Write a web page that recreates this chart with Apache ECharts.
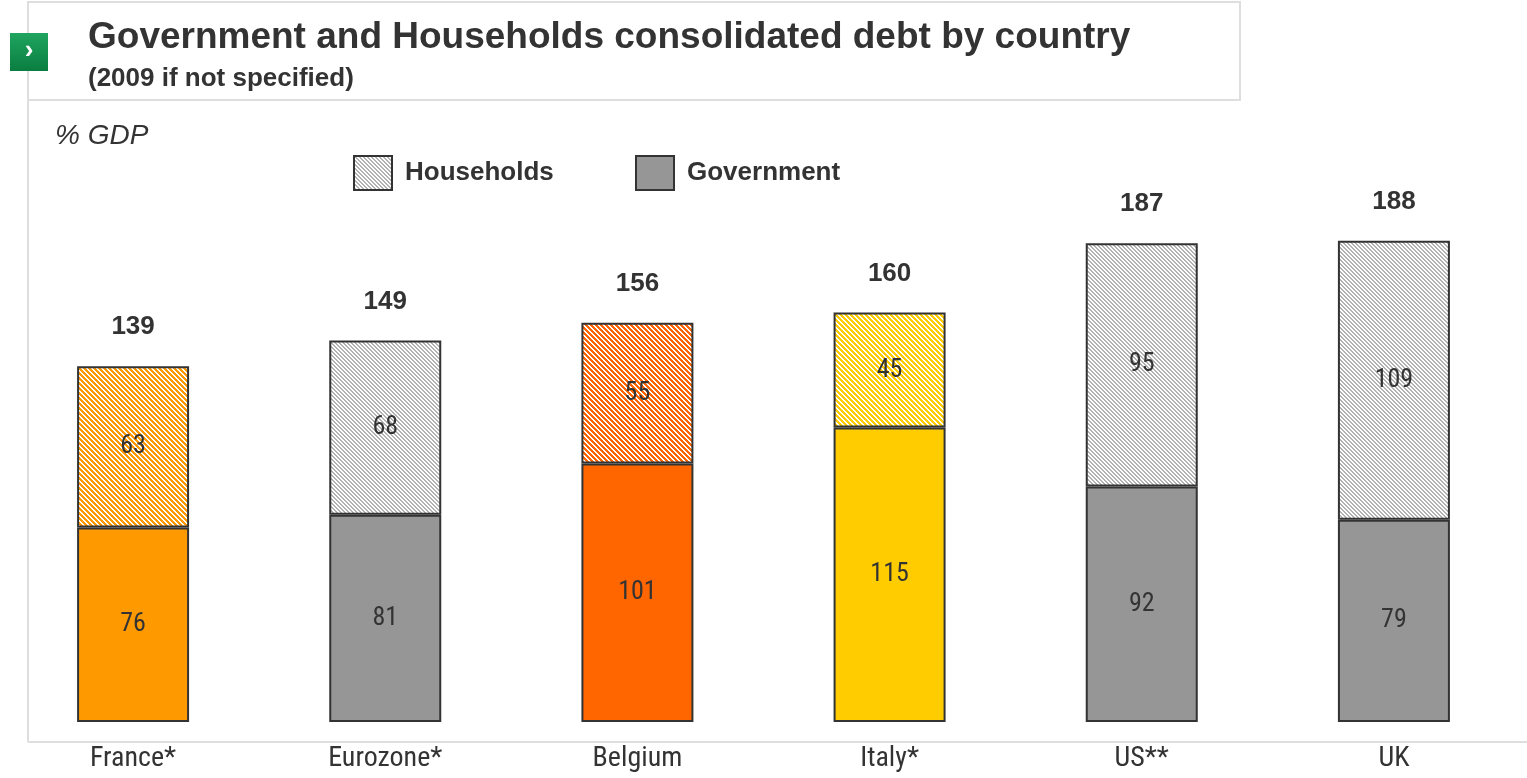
<!DOCTYPE html>
<html>
<head>
<meta charset="utf-8">
<title>Government and Households consolidated debt by country</title>
<script src="https://cdn.jsdelivr.net/npm/echarts@6/dist/echarts.min.js"></script>
<style>
  html, body { margin: 0; padding: 0; background: #fff; }
  #chart { width: 1527px; height: 778px; }
</style>
</head>
<body>
<div id="chart"></div>
<script>
// Debt as % of GDP (2009 unless specified)
const countries = ['France*', 'Eurozone*', 'Belgium', 'Italy*', 'US**', 'UK'];
const government = [76, 81, 101, 115, 92, 79];
const households = [63, 68, 55, 45, 95, 109];
const totals = [139, 149, 156, 160, 187, 188];

// Base colour per country; the households segment uses a striped version of it
const countryColors = ['#FF9900', '#969696', '#FF6600', '#FFCC00', '#969696', '#969696'];

const NARROW = "'Liberation Sans Narrow', 'Roboto Condensed', 'DejaVu Sans Condensed', 'Liberation Sans', sans-serif";
const SANS = "'Liberation Sans', Arial, sans-serif";
const TEXT = '#333333';

// Diagonal "\" stripe tile used as a repeating fill
function hatch(stripe, bg, period, width) {
  const c = document.createElement('canvas');
  c.width = period; c.height = period;
  const ctx = c.getContext('2d');
  ctx.fillStyle = bg;
  ctx.fillRect(0, 0, period, period);
  ctx.fillStyle = stripe;
  for (let y = 0; y < period; y++) {
    for (let x = 0; x < period; x++) {
      const d = ((x - y) % period + period) % period;
      if (d < width) ctx.fillRect(x, y, 1, 1);
    }
  }
  return { image: c, repeat: 'repeat' };
}

function hatchFor(color) {
  if (color === '#969696') return hatch('#b2b2b2', '#ffffff', 4, 2);
  return hatch(color, '#ffffff', 5, 3);
}

const grayHatch = hatchFor('#969696');
const border = { borderColor: '#333333', borderWidth: 2 };

const chart = echarts.init(document.getElementById('chart'), null, { renderer: 'canvas' });

const legendText = { fontFamily: SANS, fontWeight: 'bold', fontSize: 26, color: TEXT, padding: [0, 0, 0, 8] };

chart.setOption({
  animation: false,
  backgroundColor: '#ffffff',
  grid: { left: 7, right: 7, top: 210, bottom: 56 },
  legend: [
    {
      data: ['Households'],
      left: 353, top: 155, padding: 0,
      icon: 'rect', itemWidth: 38, itemHeight: 34,
      itemStyle: border,
      textStyle: legendText,
      selectedMode: false
    },
    {
      data: ['Government'],
      left: 635, top: 155, padding: 0,
      icon: 'rect', itemWidth: 38, itemHeight: 34,
      itemStyle: border,
      textStyle: legendText,
      selectedMode: false
    }
  ],
  xAxis: {
    type: 'category',
    data: countries,
    axisLine: { show: false },
    axisTick: { show: false },
    axisLabel: { fontFamily: NARROW, fontSize: 28, color: TEXT, margin: 23 }
  },
  yAxis: { type: 'value', min: 0, max: 200, show: false },
  series: [
    {
      name: 'Government',
      type: 'bar',
      stack: 'debt',
      barWidth: 112,
      itemStyle: Object.assign({ color: '#969696' }, border),
      label: { show: true, position: 'inside', fontFamily: NARROW, fontSize: 26, color: TEXT },
      data: government.map((v, i) => ({ value: v, itemStyle: { color: countryColors[i] } }))
    },
    {
      name: 'Households',
      type: 'bar',
      stack: 'debt',
      barWidth: 112,
      itemStyle: Object.assign({ color: grayHatch }, border),
      label: { show: true, position: 'inside', fontFamily: NARROW, fontSize: 26, color: TEXT },
      data: households.map((v, i) => ({ value: v, itemStyle: { color: hatchFor(countryColors[i]) } }))
    },
    {
      name: 'Total',
      type: 'scatter',
      symbolSize: 0,
      silent: true,
      itemStyle: { color: TEXT, opacity: 1 },
      label: {
        show: true, position: 'top', distance: 26,
        fontFamily: SANS, fontWeight: 'bold', fontSize: 26, color: TEXT
      },
      data: totals
    }
  ],
  graphic: [
    // frame: title box, left rule and bottom rule
    { type: 'rect', shape: { x: 28, y: 2, width: 1212, height: 98 }, style: { fill: 'none', stroke: '#dedede', lineWidth: 2 }, z: 0 },
    { type: 'line', shape: { x1: 28, y1: 100, x2: 28, y2: 742 }, style: { stroke: '#dedede', lineWidth: 2 }, z: 0 },
    { type: 'line', shape: { x1: 28, y1: 742, x2: 1527, y2: 742 }, style: { stroke: '#dedede', lineWidth: 2 }, z: 0 },
    // green marker
    {
      type: 'rect', shape: { x: 10, y: 33, width: 38, height: 38 },
      style: { fill: new echarts.graphic.LinearGradient(0, 0, 0, 1, [{ offset: 0, color: '#1fa55f' }, { offset: 1, color: '#0a7d40' }]) },
      z: 5
    },
    { type: 'text', x: 29, y: 51, style: { text: '›', fill: '#fff', font: 'bold 26px ' + SANS, align: 'center', verticalAlign: 'middle' }, z: 6 },
    // titles
    { type: 'text', x: 88, y: 38, style: { text: 'Government and Households consolidated debt by country', fill: TEXT, font: 'bold 37px ' + SANS, verticalAlign: 'middle' } },
    { type: 'text', x: 88, y: 79, style: { text: '(2009 if not specified)', fill: TEXT, font: 'bold 26px ' + SANS, verticalAlign: 'middle' } },
    { type: 'text', x: 55, y: 136, style: { text: '% GDP', fill: TEXT, font: 'italic 28px ' + SANS, verticalAlign: 'middle' } }
  ]
});
</script>
</body>
</html>
